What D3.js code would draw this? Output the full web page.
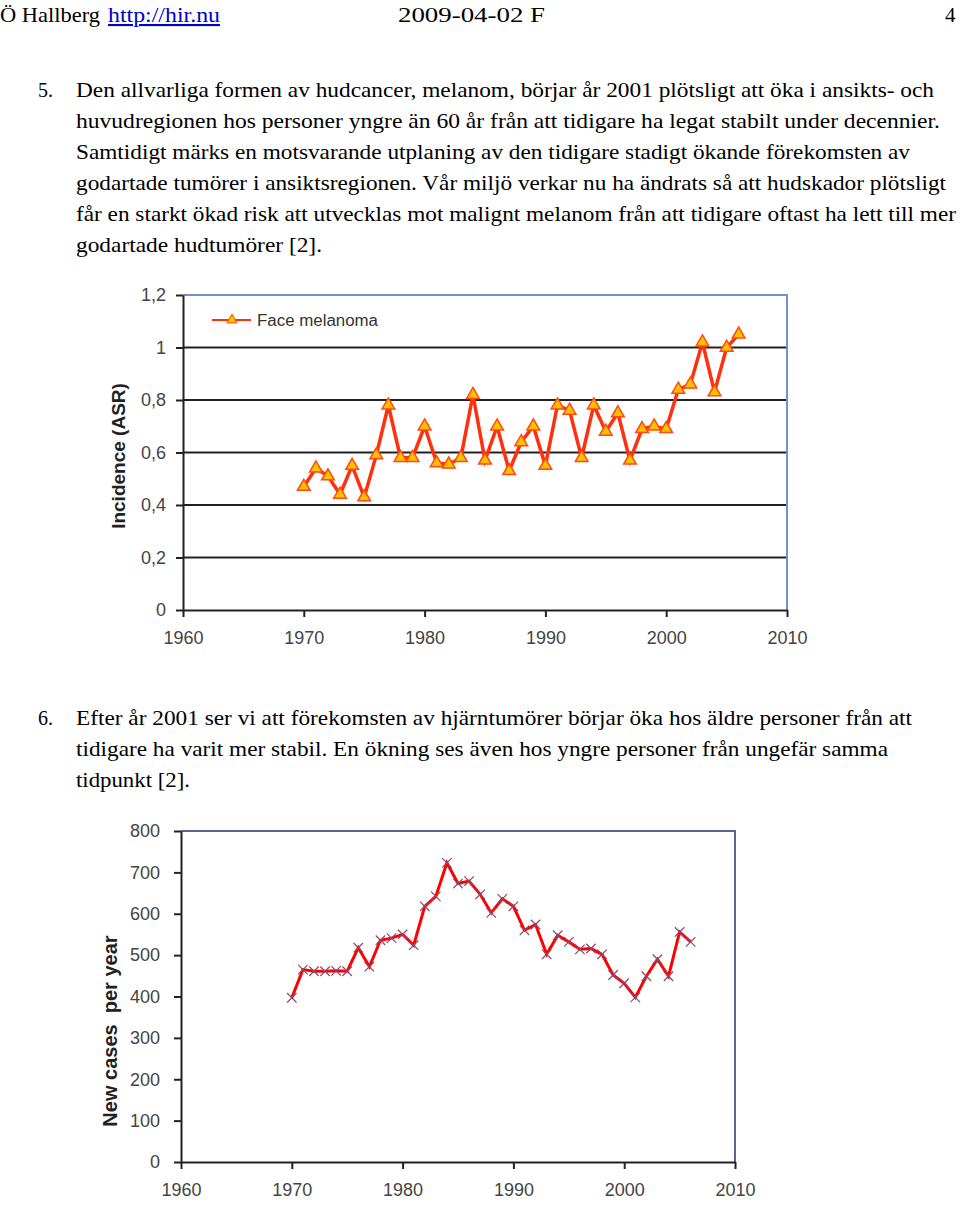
<!DOCTYPE html>
<html>
<head>
<meta charset="utf-8">
<script src="https://cdn.jsdelivr.net/npm/d3@7"></script>
<style>
  body { margin: 0; background: #fff; }
  svg { display: block; }
</style>
</head>
<body>
<div id="page"></div>
<script>
// --- Daten: Gesichtsmelanom (Incidence ASR), 1970-2006 ---
const years = d3.range(1970, 2007);
const melanoma = [0.47, 0.54, 0.51, 0.44, 0.55, 0.43, 0.59, 0.78, 0.58, 0.58,
                  0.70, 0.56, 0.555, 0.58, 0.82, 0.57, 0.70, 0.53, 0.64, 0.70,
                  0.55, 0.78, 0.76, 0.58, 0.78, 0.68, 0.75, 0.57, 0.69, 0.70,
                  0.69, 0.84, 0.86, 1.02, 0.83, 1.00, 1.05];

// --- Daten: Hirntumoren, neue Fälle pro Jahr, 1970-2006 ---
const brainCases = [397, 465, 461, 461, 462, 461, 518, 472, 536, 541,
                    550, 524, 618, 642, 723, 673, 679, 647, 602, 636,
                    618, 560, 574, 502, 548, 532, 514, 516, 502, 452,
                    432, 398, 449, 490, 449, 556, 532];

// --- Achsenbeschriftungen ---
const xTicks = [1960, 1970, 1980, 1990, 2000, 2010];
const yTicks1 = [0, 0.2, 0.4, 0.6, 0.8, 1, 1.2];
const yTickLabels1 = ["0", "0,2", "0,4", "0,6", "0,8", "1", "1,2"];
const yTicks2 = [0, 100, 200, 300, 400, 500, 600, 700, 800];

// --- Text der Seite ---
const para5 = [
  "Den allvarliga formen av hudcancer, melanom, börjar år 2001 plötsligt att öka i ansikts- och",
  "huvudregionen hos personer yngre än 60 år från att tidigare ha legat stabilt under decennier.",
  "Samtidigt märks en motsvarande utplaning av den tidigare stadigt ökande förekomsten av",
  "godartade tumörer i ansiktsregionen. Vår miljö verkar nu ha ändrats så att hudskador plötsligt",
  "får en starkt ökad risk att utvecklas mot malignt melanom från att tidigare oftast ha lett till mer",
  "godartade hudtumörer [2]."
];
const para5Widths = [858, 864, 834, 870, 880, 246];
const para6 = [
  "Efter år 2001 ser vi att förekomsten av hjärntumörer börjar öka hos äldre personer från att",
  "tidigare ha varit mer stabil. En ökning ses även hos yngre personer från ungefär samma",
  "tidpunkt [2]."
];
const para6Widths = [836, 812, 114];

const svg = d3.select("#page").append("svg")
  .attr("width", 960)
  .attr("height", 1205);

const serif = "'Liberation Serif', 'Times New Roman', serif";
const sans = "'Liberation Sans', Arial, sans-serif";

// Kopfzeile (Text etwas breit gezogen wie im Original)
const head = svg.append("g").style("font-family", serif).style("font-size", "21px").attr("fill", "#000");
head.append("text").attr("x", 0).attr("y", 22)
  .attr("textLength", 100).attr("lengthAdjust", "spacingAndGlyphs").text("Ö Hallberg");
head.append("text").attr("x", 108).attr("y", 22).attr("fill", "#0000cc")
  .attr("textLength", 112).attr("lengthAdjust", "spacingAndGlyphs")
  .style("text-decoration", "underline").text("http://hir.nu");
head.append("text").attr("x", 398).attr("y", 22)
  .attr("textLength", 147).attr("lengthAdjust", "spacingAndGlyphs").text("2009-04-02 F");
head.append("text").attr("x", 945).attr("y", 22).text("4");

// Absätze zeichnen
function drawPara(num, lines, widths, y0) {
  const g = svg.append("g").style("font-family", serif).style("font-size", "21px").attr("fill", "#000");
  g.append("text").attr("x", 38).attr("y", y0)
    .attr("textLength", 15).attr("lengthAdjust", "spacingAndGlyphs").text(num);
  lines.forEach((line, i) => {
    g.append("text").attr("x", 76).attr("y", y0 + i * 31)
      .attr("textLength", widths[i]).attr("lengthAdjust", "spacingAndGlyphs")
      .text(line);
  });
}
drawPara("5.", para5, para5Widths, 97);
drawPara("6.", para6, para6Widths, 725);

// ---------------------------------------------------------------
// Diagramm 1: Face melanoma
// ---------------------------------------------------------------
const x1 = d3.scaleLinear().domain([1960, 2010]).range([183, 787]);
const y1 = d3.scaleLinear().domain([0, 1.2]).range([610, 295]);

const c1 = svg.append("g");

// Gitterlinien
c1.append("g").selectAll("line")
  .data(yTicks1.filter(v => v > 0 && v < 1.2))
  .join("line")
  .attr("x1", x1(1960)).attr("x2", x1(2010))
  .attr("y1", d => y1(d)).attr("y2", d => y1(d))
  .attr("stroke", "#222").attr("stroke-width", 2);

// Rahmen oben/rechts
c1.append("path")
  .attr("d", `M${x1(1960)},${y1(1.2)}H${x1(2010)}V${y1(0)}`)
  .attr("fill", "none").attr("stroke", "#6f93c6").attr("stroke-width", 2);

const ax1 = c1.append("g")
  .attr("transform", `translate(${x1(1960)},0)`)
  .call(d3.axisLeft(y1).tickValues(yTicks1).tickFormat((d, i) => yTickLabels1[i]).tickSize(7).tickSizeOuter(0).tickPadding(10));
const bx1 = c1.append("g")
  .attr("transform", `translate(0,${y1(0)})`)
  .call(d3.axisBottom(x1).tickValues(xTicks).tickFormat(d3.format("d")).tickSize(7).tickSizeOuter(0).tickPadding(14));

[ax1, bx1].forEach(a => {
  a.select(".domain").attr("stroke", "#222").attr("stroke-width", 2);
  a.selectAll(".tick line").attr("stroke", "#222").attr("stroke-width", 2);
  a.selectAll(".tick text").attr("fill", "#444").style("font-family", sans).style("font-size", "18px");
});

// Achsentitel
c1.append("text")
  .attr("transform", `translate(125,456) rotate(-90)`)
  .attr("text-anchor", "middle")
  .style("font-family", sans).style("font-size", "19px").style("font-weight", "bold")
  .attr("fill", "#222")
  .text("Incidence (ASR)");

// Linie
const line1 = d3.line().x((d, i) => x1(years[i])).y(d => y1(d));
c1.append("path").datum(melanoma)
  .attr("d", line1)
  .attr("fill", "none").attr("stroke", "#ff3010").attr("stroke-width", 3.5);

const tri = d3.symbol(d3.symbolTriangle, 70);
c1.append("g").selectAll("path")
  .data(melanoma)
  .join("path")
  .attr("d", tri)
  .attr("transform", (d, i) => `translate(${x1(years[i])},${y1(d)})`)
  .attr("fill", "#ffc000").attr("stroke", "#ff4a10").attr("stroke-width", 1.5);

// Legende
const leg = c1.append("g");
leg.append("line").attr("x1", 212).attr("x2", 251).attr("y1", 320).attr("y2", 320)
  .attr("stroke", "#ff3010").attr("stroke-width", 2);
leg.append("path").attr("d", d3.symbol(d3.symbolTriangle, 45))
  .attr("transform", "translate(232,320)")
  .attr("fill", "#ffc000").attr("stroke", "#ff4a10").attr("stroke-width", 1);
leg.append("text").attr("x", 257).attr("y", 326)
  .style("font-family", sans).style("font-size", "16px").attr("fill", "#333")
  .attr("textLength", 121).attr("lengthAdjust", "spacingAndGlyphs")
  .text("Face melanoma");

// ---------------------------------------------------------------
// Diagramm 2: Hirntumoren
// ---------------------------------------------------------------
const x2 = d3.scaleLinear().domain([1960, 2010]).range([181, 735]);
const y2 = d3.scaleLinear().domain([0, 800]).range([1162, 831]);

const c2 = svg.append("g");

c2.append("path")
  .attr("d", `M${x2(1960)},${y2(800)}H${x2(2010)}V${y2(0)}`)
  .attr("fill", "none").attr("stroke", "#5a6496").attr("stroke-width", 2);

const ax2 = c2.append("g")
  .attr("transform", `translate(${x2(1960)},0)`)
  .call(d3.axisLeft(y2).tickValues(yTicks2).tickFormat(d3.format("d")).tickSize(7).tickSizeOuter(0).tickPadding(14));
const bx2 = c2.append("g")
  .attr("transform", `translate(0,${y2(0)})`)
  .call(d3.axisBottom(x2).tickValues(xTicks).tickFormat(d3.format("d")).tickSize(7).tickSizeOuter(0).tickPadding(14));

[ax2, bx2].forEach(a => {
  a.select(".domain").attr("stroke", "#222").attr("stroke-width", 2);
  a.selectAll(".tick line").attr("stroke", "#222").attr("stroke-width", 2);
  a.selectAll(".tick text").attr("fill", "#444").style("font-family", sans).style("font-size", "18px");
});

c2.append("text")
  .attr("transform", `translate(117,1031) rotate(-90)`)
  .attr("text-anchor", "middle")
  .style("font-family", sans).style("font-size", "20px").style("font-weight", "bold")
  .attr("fill", "#222")
  .attr("xml:space", "preserve")
  .text("New cases  per year");

const line2 = d3.line().x((d, i) => x2(years[i])).y(d => y2(d));
c2.append("path").datum(brainCases)
  .attr("d", line2)
  .attr("fill", "none").attr("stroke", "#ff0000").attr("stroke-width", 3);

const cross = d3.symbol(d3.symbolX, 60);
c2.append("g").selectAll("path")
  .data(brainCases)
  .join("path")
  .attr("d", cross)
  .attr("transform", (d, i) => `translate(${x2(years[i])},${y2(d)})`)
  .attr("fill", "none").attr("stroke", "#8a4a70").attr("stroke-width", 1.2);
</script>
</body>
</html>
